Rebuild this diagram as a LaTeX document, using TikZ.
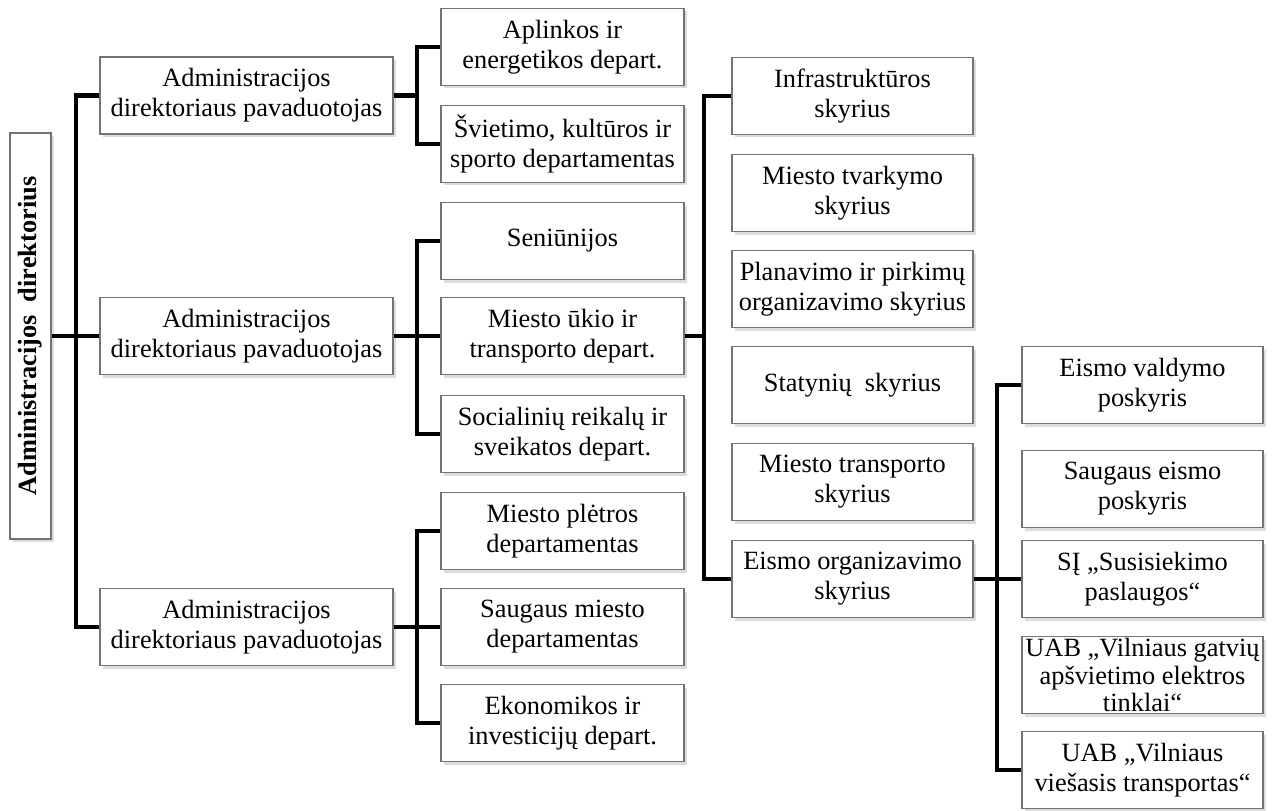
\documentclass[tikz,border=0pt]{standalone}
\usepackage{fontspec}
\setmainfont{Liberation Serif}
\usetikzlibrary{shadows}

\begin{document}
\begin{tikzpicture}[
	  box/.style={draw=black!55,line width=0.6pt,fill=white,align=center,
	    minimum height=1.54cm,inner sep=1pt,font=\fontsize{15}{17}\selectfont,
	    drop shadow={shadow xshift=0.05cm,shadow yshift=-0.06cm,fill=black!30,opacity=0.45}},
	  lvla/.style={box,minimum width=5.86cm},
	  lvlb/.style={box,minimum width=4.86cm},
	  lvlc/.style={box,minimum width=4.82cm},
	  link/.style={line width=2.3pt,line join=miter}]
	  \useasboundingbox (0,0) rectangle (25.5,-16.2);
	  % direktorius
	  \node[box,rotate=90,minimum width=8.12cm,minimum height=0.82cm,
	    font=\bfseries\fontsize{15}{17}\selectfont] (root) at (0.61,-6.72)
	    {Administracijos\ \ direktorius};
	  % pavaduotojai
	  \node[lvla] (dir1) at (4.93,-1.91) {Administracijos\\direktoriaus pavaduotojas};
	  \node[lvla] (dir2) at (4.93,-6.72) {Administracijos\\direktoriaus pavaduotojas};
	  \node[lvla] (dir3) at (4.93,-12.54) {Administracijos\\direktoriaus pavaduotojas};
	  % departamentai
	  \node[lvlb] (aplink) at (11.25,-0.94) {Aplinkos ir\\energetikos depart.};
	  \node[lvlb] (svietim) at (11.25,-2.88) {Švietimo, kultūros ir\\sporto departamentas};
	  \node[lvlb] (seniun) at (11.25,-4.82) {Seniūnijos};
	  \node[lvlb] (ukio) at (11.25,-6.72) {Miesto ūkio ir\\transporto depart.};
	  \node[lvlb] (social) at (11.25,-8.68) {Socialinių reikalų ir\\sveikatos depart.};
	  \node[lvlb] (pletr) at (11.25,-10.62) {Miesto plėtros\\departamentas};
	  \node[lvlb] (saugm) at (11.25,-12.54) {Saugaus miesto\\departamentas};
	  \node[lvlb] (ekon) at (11.25,-14.46) {Ekonomikos ir\\investicijų depart.};
	  % skyriai
	  \node[lvlc] (infra) at (17.05,-1.92) {Infrastruktūros\\skyrius};
	  \node[lvlc] (tvark) at (17.05,-3.86) {Miesto tvarkymo\\skyrius};
	  \node[lvlc] (planav) at (17.05,-5.78) {Planavimo ir pirkimų\\organizavimo skyrius};
	  \node[lvlc] (statyn) at (17.05,-7.70) {Statynių\ \ skyrius};
	  \node[lvlc] (transp) at (17.05,-9.64) {Miesto transporto\\skyrius};
	  \node[lvlc] (eismo) at (17.05,-11.58) {Eismo organizavimo\\skyrius};
	  % poskyriai
	  \node[lvlc] (valdym) at (22.85,-7.70) {Eismo valdymo\\poskyris};
	  \node[lvlc] (saugeism) at (22.85,-9.78) {Saugaus eismo\\poskyris};
	  \node[lvlc] (susis) at (22.85,-11.58) {SĮ „Susisiekimo\\paslaugos“};
	  \node[lvlc,font=\fontsize{15}{15.5}\selectfont,inner sep=0pt] (gatv) at (22.85,-13.50)
	    {UAB „Vilniaus gatvių\\apšvietimo elektros\\tinklai“};
	  \node[lvlc] (viesas) at (22.85,-15.40) {UAB „Vilniaus\\viešasis transportas“};
	  % šakos
	  \coordinate (t0) at (1.52,0);
	  \coordinate (t1) at (8.34,0);
	  \coordinate (t2) at (14.08,0);
	  \coordinate (t3) at (19.94,0);
	  \draw[link] (root.south) -- (dir2.west);
	  \draw[link] (dir1.west) -| (t0 |- dir3) -- (dir3.west);
	  \draw[link] (dir1.east) -- (t1 |- dir1);
	  \draw[link] (aplink.west) -| (t1 |- svietim) -- (svietim.west);
	  \draw[link] (dir2.east) -- (ukio.west);
	  \draw[link] (seniun.west) -| (t1 |- social) -- (social.west);
	  \draw[link] (dir3.east) -- (saugm.west);
	  \draw[link] (pletr.west) -| (t1 |- ekon) -- (ekon.west);
	  \draw[link] (ukio.east) -- (t2 |- ukio);
	  \draw[link] (infra.west) -| (t2 |- eismo) -- (eismo.west);
	  \draw[link] (eismo.east) -- (susis.west);
	  \draw[link] (valdym.west) -| (t3 |- viesas) -- (viesas.west);
	\end{tikzpicture}
\end{document}
